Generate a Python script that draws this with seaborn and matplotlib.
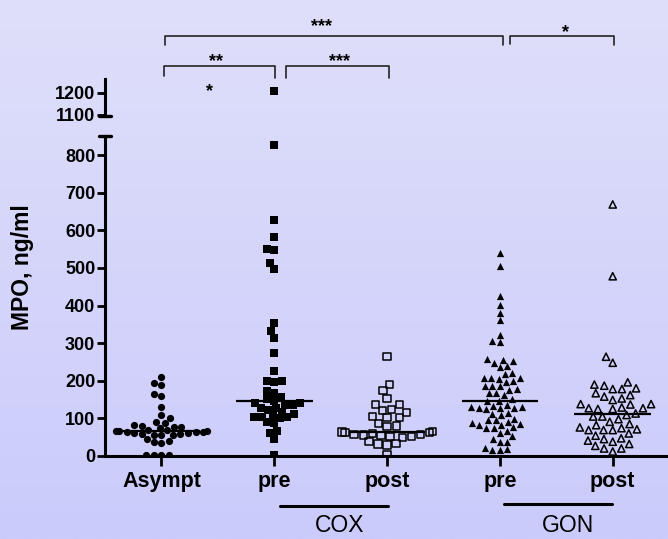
import numpy as np
import pandas as pd
import matplotlib
matplotlib.use("Agg")
import matplotlib.pyplot as plt
import matplotlib.transforms as mtrans
from matplotlib.lines import Line2D
from matplotlib.colors import LinearSegmentedColormap
import seaborn as sns

# groups / tick labels
groups = ["Asympt", "COX pre", "COX post", "GON pre", "GON post"]
tick_labels = ["Asympt", "pre", "post", "pre", "post"]

# MPO values (ng/ml)
asympt = [211, 193, 188, 165, 159, 131, 109, 102,
          91, 89, 82, 80, 78, 76, 74,
          70, 68, 67, 66, 66, 65, 64, 63, 61,
          60, 59, 58, 57, 56, 55,
          45, 40, 37, 35,
          2, 2, 2, 2]
cox_pre = [1210, 828, 627, 582, 551, 548, 512, 497, 354, 332,
           315, 275, 227, 200, 198, 200, 174, 168, 156, 151,
           147, 140, 136, 140, 136, 128, 122, 128, 118, 111,
           106, 105, 100, 105, 103, 87, 91, 60, 66, 45, 2]
cox_post = [264, 191, 174, 153, 137, 137, 124, 122, 115, 105,
            102, 102, 87, 80, 78,
            66, 64, 62, 60, 58, 57, 56, 55, 62,
            51, 50, 51, 38, 32, 29, 34, 3]
gon_pre = [539, 505, 425, 401, 381, 361, 322, 302, 305, 258,
           253, 239, 237, 248, 255, 220, 218, 206, 208, 208,
           208, 200, 198, 186, 186, 186, 177, 175, 167, 162,
           167, 147, 146, 151, 136, 128, 128, 131, 131, 133,
           124, 128, 115, 109, 113, 99, 96, 89, 82, 78,
           82, 84, 91, 97, 74, 74, 62, 67, 53, 38,
           38, 44, 20, 15, 18, 15]
gon_post = [669, 478, 248, 264, 196, 187, 178, 178, 180, 190,
            167, 158, 149, 153, 162, 138, 138, 127, 125, 125,
            127, 129, 137, 113, 105, 98, 105, 109, 91, 82,
            76, 85, 69, 71, 69, 60, 69, 74, 47, 41,
            54, 38, 45, 32, 20, 27, 12, 20]

values = {"Asympt": asympt, "COX pre": cox_pre, "COX post": cox_post,
          "GON pre": gon_pre, "GON post": gon_post}
markers = {"Asympt": ("o", True), "COX pre": ("s", True), "COX post": ("s", False),
           "GON pre": ("^", True), "GON post": ("^", False)}

df = pd.DataFrame([(g, v) for g in groups for v in values[g]], columns=["group", "mpo"])

sns.set_style("ticks")
plt.rcParams["font.family"] = ["Liberation Sans", "DejaVu Sans"]
plt.rcParams.update({"text.color": "black", "xtick.color": "black",
                     "ytick.color": "black", "axes.edgecolor": "black"})

W, H = 668, 539
fig = plt.figure(figsize=(W / 100, H / 100), dpi=100)


def box(x0, y0, x1, y1):
    # pixel box measured from the top-left corner
    return [x0 / W, 1 - y1 / H, (x1 - x0) / W, (y1 - y0) / H]


# lavender gradient background
bg = fig.add_axes([0, 0, 1, 1], zorder=-5)
cmap = LinearSegmentedColormap.from_list("bg", ["#DFDFFA", "#CBCBFC"])
bg.imshow(np.linspace(0, 1, 256)[:, None], aspect="auto", cmap=cmap, extent=[0, 1, 0, 1])
bg.axis("off")

ax = fig.add_axes(box(105, 136, 668, 456))
ax_up = fig.add_axes(box(105, 79, 668, 116))

for g in groups:
    m, filled = markers[g]
    sub = df[(df.group == g) & (df.mpo < 900)]
    n0 = len(ax.collections)
    sns.swarmplot(data=sub, x="group", y="mpo", order=groups, marker=m,
                  size=5.2, color="black", linewidth=0, ax=ax)
    if not filled:
        for coll in ax.collections[n0:]:
            coll.set_facecolor("none")
            coll.set_edgecolor("black")
            coll.set_linewidth(1.1)
    i = groups.index(g)
    ax.hlines(np.median(values[g]), i - 0.34, i + 0.34, color="black", lw=1.6, zorder=4)

high = df[df.mpo > 900]
sns.stripplot(data=high, x="group", y="mpo", order=groups, marker="s", size=5.2,
              color="black", jitter=False, linewidth=0, ax=ax_up)

for a in (ax, ax_up):
    a.set_facecolor("none")
    a.set_xlim(-0.5, 4.49)
    a.set_xlabel("")
    a.set_ylabel("")
    a.spines[["top", "right"]].set_visible(False)
    a.spines["left"].set_linewidth(2.2)
    a.tick_params(axis="y", width=2, length=6, labelsize=13, pad=1)

ax.set_ylim(0, 851)
ax.set_yticks(range(0, 801, 100))
ax_up.set_ylim(1095, 1263)
ax_up.set_yticks([1100, 1200])
ax_up.spines["bottom"].set_visible(False)
ax_up.tick_params(axis="x", bottom=False, labelbottom=False)

ax.spines["bottom"].set_linewidth(2.2)
ax.set_xticks(range(5))
ax.set_xticklabels(tick_labels, fontsize=15.5, fontweight="bold")
ax.tick_params(axis="x", width=2, length=7, pad=4)
for lab in ax.get_yticklabels() + ax_up.get_yticklabels():
    lab.set_fontweight("bold")

# caps at the axis break
for yy in (136, 116):
    fig.add_artist(Line2D([99 / W, 111 / W], [1 - yy / H] * 2, transform=fig.transFigure,
                          lw=2.4, color="black"))

# significance brackets (x in data units, y in pixels from top)
tr = mtrans.blended_transform_factory(ax.transData, fig.transFigure)


def bracket(x0, x1, y, yl, yr):
    fig.add_artist(Line2D([x0, x0, x1, x1], [1 - yl / H, 1 - y / H, 1 - y / H, 1 - yr / H],
                          transform=tr, lw=1.2, color="#222222"))


def stars(x, y, s):
    fig.text(x, 1 - (y + 10) / H, s, transform=tr, ha="center", va="baseline",
             fontsize=13, fontweight="bold")


bracket(0.03, 3.03, 36, 45, 45)
bracket(3.09, 4.01, 36, 44, 45)
bracket(0.02, 1.01, 66, 76, 78)
bracket(1.10, 2.02, 66, 78, 78)
stars(1.42, 21, "***")
stars(3.58, 27, "*")
stars(0.48, 56, "**")
stars(1.58, 56, "***")
stars(0.43, 86, "*")

# group underlines and names
for x0, x1, y, xt, name in [(1.053, 2.009, 506, 1.58, "COX"), (3.035, 3.99, 504, 3.6, "GON")]:
    fig.add_artist(Line2D([x0, x1], [1 - y / H] * 2, transform=tr, lw=2.2, color="black"))
    fig.text(xt, 1 - 525 / H, name, transform=tr, ha="center", va="center", fontsize=16.5)

fig.text(22 / W, 1 - 267 / H, "MPO, ng/ml", rotation=90, ha="center", va="center",
         fontsize=16.5, fontweight="bold")

fig.savefig("out.png", dpi=100)
